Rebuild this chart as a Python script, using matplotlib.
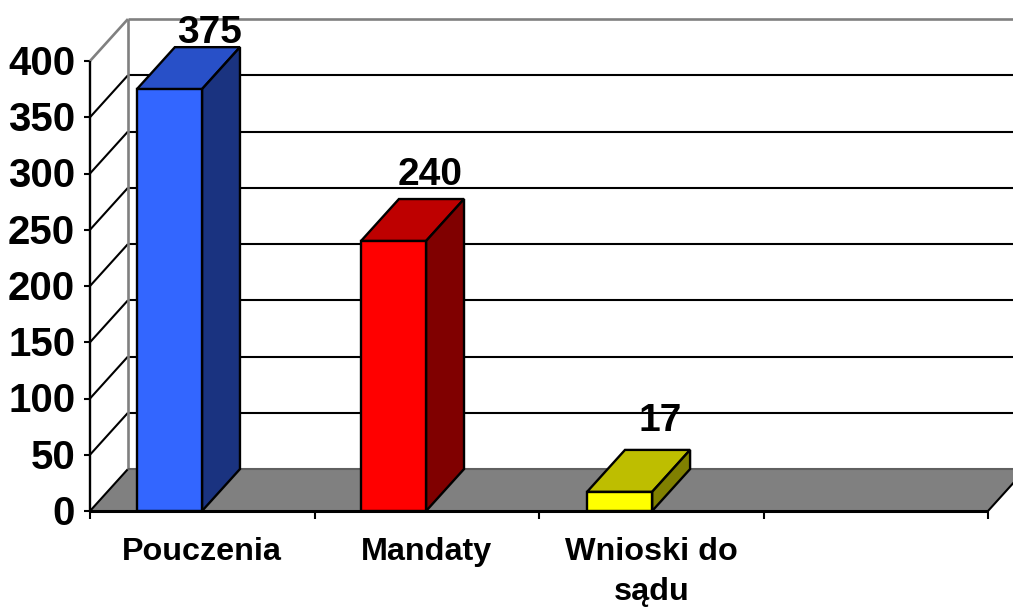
import matplotlib
matplotlib.use('Agg')
import matplotlib.pyplot as plt
from matplotlib.patches import Polygon

# Datos del grafico
categorias = ['Pouczenia', 'Mandaty', 'Wnioski do\nsądu']
valores = [375, 240, 17]
ticks_y = [0, 50, 100, 150, 200, 250, 300, 350, 400]

colores_frente = ['#3366FF', '#FF0000', '#FFFF00']
colores_arriba = ['#2850C8', '#BE0000', '#BEBE00']
colores_lado = ['#1A3380', '#800000', '#808000']

# Profundidad del efecto 3D, en unidades de los ejes
prof_x = 0.169
prof_y = 37.3
ancho_barra = 0.29
inicio_barra = [0.209, 1.207, 2.214]
num_grupos = 4

# Ajuste de las etiquetas de valor
sep_etiqueta = [-3.5, 5.5, 10]
x_etiqueta = [-0.05, -0.065, -0.05]

plt.rcParams['font.family'] = ['Liberation Sans', 'DejaVu Sans']

fig = plt.figure(figsize=(10.13, 6.08), dpi=100)
ax = fig.add_axes([90 / 1013, 97 / 608, 898 / 1013, 450 / 608])
ax.set_xlim(0, num_grupos)
ax.set_ylim(0, 400)
ax.axis('off')


def poligono(puntos, color, z, borde='black'):
    ax.add_patch(Polygon(puntos, closed=True, facecolor=color, edgecolor=borde,
                         linewidth=1.7, clip_on=False, zorder=z))


def linea(xs, ys, z=2, color='black', grosor=1.5):
    ax.plot(xs, ys, color=color, linewidth=grosor, clip_on=False, zorder=z,
            solid_capstyle='butt')


# Suelo gris
ax.add_patch(Polygon([(0, 0), (prof_x, prof_y), (num_grupos + prof_x, prof_y), (num_grupos, 0)],
                     closed=True, facecolor='#808080', edgecolor='none', clip_on=False, zorder=1))
linea([0, prof_x], [0, prof_y])
linea([num_grupos, num_grupos + prof_x], [0, prof_y])

# Rejilla: pared izquierda y pared del fondo
for t in ticks_y:
    if 0 < t < 400:
        linea([0, prof_x], [t, t + prof_y])
        linea([prof_x, num_grupos + prof_x], [t + prof_y, t + prof_y])
    linea([-0.025, 0], [t, t])
    ax.text(-0.066, t - 2.5, str(t), ha='right', va='center', fontsize=29, fontweight='bold')

# Bordes grises de las paredes
gris = '#808080'
linea([0, prof_x], [400, 400 + prof_y], color=gris, grosor=1.9)
linea([prof_x, num_grupos + prof_x], [400 + prof_y, 400 + prof_y], color=gris, grosor=1.9)
linea([prof_x, prof_x], [prof_y, 400 + prof_y], color=gris, grosor=1.9)
linea([prof_x, num_grupos + prof_x], [prof_y, prof_y], color='#606060')

linea([0, 0], [0, 400], grosor=1.7)
linea([0, num_grupos], [0, 0], 6, grosor=2.2)

# Marcas del eje x
for i in range(num_grupos + 1):
    linea([i, i], [0, -7], 6)

# Barras
for i, v in enumerate(valores):
    x0 = inicio_barra[i]
    x1 = x0 + ancho_barra
    poligono([(x0, 0), (x1, 0), (x1, v), (x0, v)], colores_frente[i], 5)
    poligono([(x0, v), (x1, v), (x1 + prof_x, v + prof_y), (x0 + prof_x, v + prof_y)], colores_arriba[i], 4)
    poligono([(x1, 0), (x1 + prof_x, prof_y), (x1 + prof_x, v + prof_y), (x1, v)], colores_lado[i], 4)
    ax.text(x1 + prof_x / 2 + x_etiqueta[i], v + prof_y + sep_etiqueta[i], str(v), ha='center',
            va='bottom', fontsize=28, fontweight='bold', zorder=7)

# Etiquetas de categorias
for i, c in enumerate(categorias):
    ax.text(i + 0.5, -23, c, ha='center', va='top', fontsize=23.3, fontweight='bold',
            linespacing=1.42)

fig.savefig('out.png', dpi=100)
